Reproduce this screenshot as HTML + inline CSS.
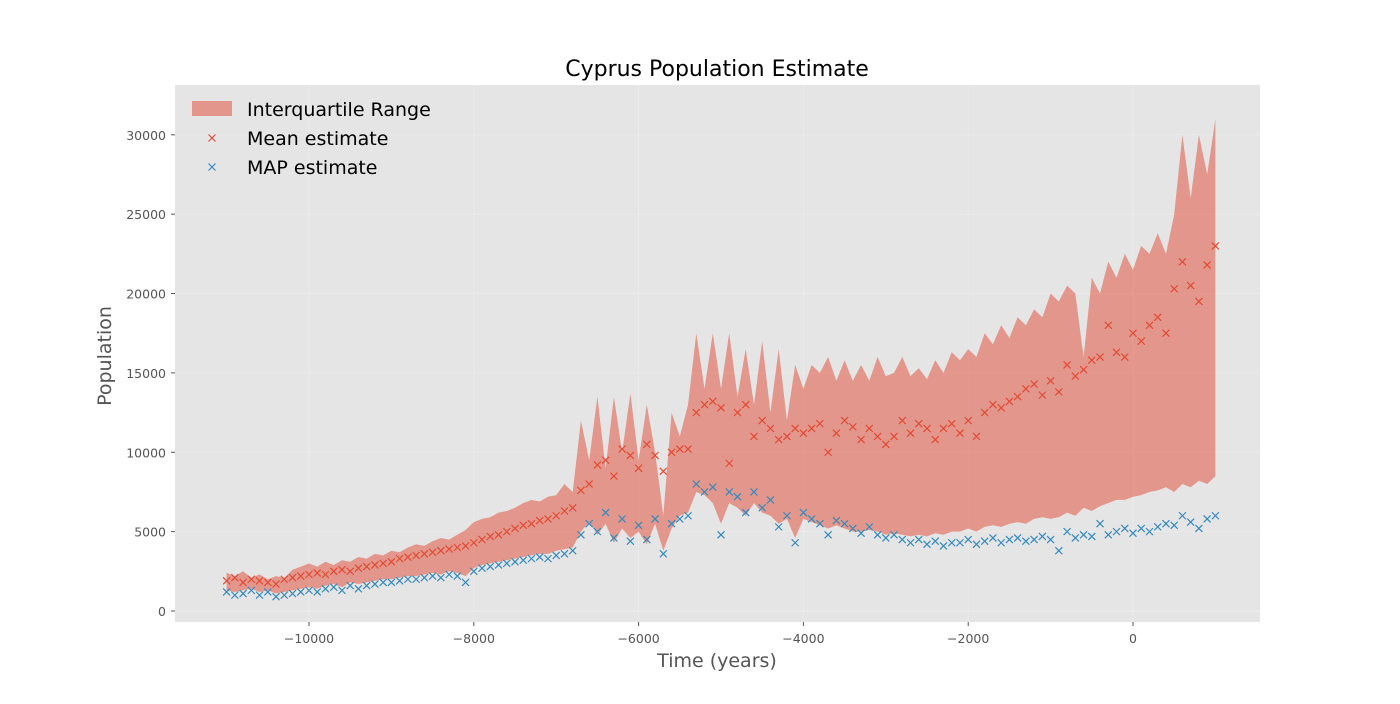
<!DOCTYPE html>
<html><head><meta charset="utf-8"><style>
body{margin:0;background:#fff;font-family:"DejaVu Sans","Liberation Sans",sans-serif}
text{font-family:"DejaVu Sans","Liberation Sans",sans-serif}
</style></head><body>
<svg width="1400" height="700" xmlns="http://www.w3.org/2000/svg">
<rect x="175" y="85" width="1085" height="537" fill="#E5E5E5"/>
<g id="grid"></g>
<g id="band"></g>
<g id="meanG"></g>
<g id="mapG"></g>
<g id="axes"></g>
<text x="717" y="76" text-anchor="middle" font-size="22" fill="#000">Cyprus Population Estimate</text>
<text x="717" y="667" text-anchor="middle" font-size="19" fill="#555">Time (years)</text>
<text x="111" y="356" text-anchor="middle" font-size="19" fill="#555" transform="rotate(-90 111 356)">Population</text>
<g>
<rect x="192" y="101" width="40" height="15" fill="#E24A33" fill-opacity="0.5"/>
<text x="247" y="116" font-size="19" fill="#000">Interquartile Range</text>
<path d="M208.5,134.5L215.5,141.5M208.5,141.5L215.5,134.5" stroke="#E24A33" stroke-width="1.2"/>
<text x="247" y="145" font-size="19" fill="#000">Mean estimate</text>
<path d="M208.5,163.5L215.5,170.5M208.5,170.5L215.5,163.5" stroke="#348ABD" stroke-width="1.2"/>
<text x="247" y="174" font-size="19" fill="#000">MAP estimate</text>
</g>
</svg>
<script>
const times=[-11000,-10900,-10800,-10700,-10600,-10500,-10400,-10300,-10200,-10100,-10000,-9900,-9800,-9700,-9600,-9500,-9400,-9300,-9200,-9100,-9000,-8900,-8800,-8700,-8600,-8500,-8400,-8300,-8200,-8100,-8000,-7900,-7800,-7700,-7600,-7500,-7400,-7300,-7200,-7100,-7000,-6900,-6800,-6700,-6600,-6500,-6400,-6300,-6200,-6100,-6000,-5900,-5800,-5700,-5600,-5500,-5400,-5300,-5200,-5100,-5000,-4900,-4800,-4700,-4600,-4500,-4400,-4300,-4200,-4100,-4000,-3900,-3800,-3700,-3600,-3500,-3400,-3300,-3200,-3100,-3000,-2900,-2800,-2700,-2600,-2500,-2400,-2300,-2200,-2100,-2000,-1900,-1800,-1700,-1600,-1500,-1400,-1300,-1200,-1100,-1000,-900,-800,-700,-600,-500,-400,-300,-200,-100,0,100,200,300,400,500,600,700,800,900,1000];
const meanK=[1.9,2.1,1.8,2.0,1.9,1.8,1.7,2.0,2.1,2.2,2.3,2.4,2.3,2.5,2.6,2.5,2.7,2.8,2.9,3.0,3.1,3.3,3.4,3.5,3.6,3.7,3.8,3.9,4.0,4.1,4.3,4.5,4.7,4.8,5.0,5.2,5.4,5.5,5.7,5.8,6.0,6.3,6.5,7.6,8.0,9.2,9.5,8.5,10.2,9.8,9.0,10.5,9.8,8.8,10.0,10.2,10.2,12.5,13.0,13.2,12.8,9.3,12.5,13.0,11.0,12.0,11.5,10.8,11.0,11.5,11.2,11.5,11.8,10.0,11.2,12.0,11.6,10.8,11.5,11.0,10.5,11.0,12.0,11.2,11.8,11.5,10.8,11.5,11.8,11.2,12.0,11.0,12.5,13.0,12.8,13.2,13.5,14.0,14.3,13.6,14.5,13.8,15.5,14.8,15.2,15.8,16.0,18.0,16.3,16.0,17.5,17.0,18.0,18.5,17.5,20.3,22.0,20.5,19.5,21.8,23.0];
const mapK=[1.2,1.0,1.1,1.3,1.0,1.2,0.9,1.0,1.1,1.2,1.3,1.2,1.4,1.5,1.3,1.6,1.4,1.6,1.7,1.8,1.8,1.9,2.0,2.0,2.1,2.2,2.1,2.3,2.2,1.8,2.5,2.7,2.8,2.9,3.0,3.1,3.2,3.3,3.4,3.3,3.5,3.6,3.8,4.8,5.5,5.0,6.2,4.6,5.8,4.4,5.4,4.5,5.8,3.6,5.5,5.8,6.0,8.0,7.5,7.8,4.8,7.5,7.2,6.2,7.5,6.5,7.0,5.3,6.0,4.3,6.2,5.8,5.5,4.8,5.7,5.5,5.2,4.9,5.3,4.8,4.6,4.8,4.5,4.3,4.5,4.2,4.4,4.1,4.3,4.3,4.5,4.2,4.4,4.6,4.3,4.5,4.6,4.4,4.5,4.7,4.5,3.8,5.0,4.6,4.8,4.7,5.5,4.8,5.0,5.2,4.9,5.2,5.0,5.3,5.5,5.4,6.0,5.6,5.2,5.8,6.0];
const q75K=[2.4,2.2,2.5,2.1,2.3,2.0,2.2,2.1,2.6,2.8,3.0,2.8,3.1,2.9,3.2,3.1,3.4,3.3,3.6,3.5,3.8,3.7,4.0,4.2,4.1,4.4,4.6,4.5,4.8,5.1,5.6,5.8,5.9,6.2,6.3,6.5,6.8,7.0,6.9,7.2,7.3,8.0,7.5,12.0,9.5,13.5,9.0,13.5,10.0,13.7,9.5,13.0,10.0,6.0,12.5,11.0,13.0,17.5,14.0,17.5,14.0,17.5,13.5,16.5,13.0,17.0,12.5,16.5,12.0,15.5,14.0,15.5,15.0,16.0,14.5,15.8,14.5,15.5,14.5,16.0,14.8,15.0,16.0,14.8,15.3,14.6,15.8,15.0,16.3,15.8,16.5,16.0,17.5,16.8,18.0,17.2,18.5,18.0,19.0,18.5,20.0,19.5,20.5,20.0,16.0,21.0,20.0,22.0,21.0,22.5,21.5,23.0,22.5,23.8,22.5,25.0,30.0,26.0,30.0,27.5,31.0];
const q25K=[1.3,1.2,1.3,1.4,1.2,1.3,1.1,1.2,1.3,1.4,1.5,1.4,1.6,1.7,1.5,1.8,1.7,1.8,1.9,2.0,2.0,2.1,2.2,2.2,2.3,2.4,2.3,2.5,2.4,2.2,2.7,2.9,3.0,3.1,3.2,3.3,3.4,3.5,3.6,3.6,3.8,3.9,4.0,5.0,5.6,4.8,5.5,4.3,5.2,4.6,5.0,4.2,5.5,3.8,5.2,6.0,6.2,7.5,7.3,6.8,5.5,6.8,6.5,6.0,6.8,6.2,6.0,5.5,5.8,4.6,5.8,5.6,5.4,5.2,5.4,5.2,5.0,5.0,5.1,5.0,4.8,4.9,4.8,4.7,4.8,4.7,4.9,4.8,5.0,5.0,5.2,5.0,5.3,5.4,5.3,5.5,5.6,5.5,5.8,5.9,5.8,5.9,6.2,6.0,6.5,6.3,6.6,6.8,7.0,7.0,7.2,7.3,7.5,7.6,7.8,7.5,8.0,7.8,8.2,8.0,8.5];
const xTicks=[-10000,-8000,-6000,-4000,-2000,0];
const xTickLabels=["\u221210000","\u22128000","\u22126000","\u22124000","\u22122000","0"];
const yTicks=[0,5000,10000,15000,20000,25000,30000];
const yTickLabels=["0","5000","10000","15000","20000","25000","30000"];

const NS="http://www.w3.org/2000/svg";
const X=t=>1133+t*0.0824;
const Y=v=>611-v*0.015873;
function mk(tag,attrs,parent){const e=document.createElementNS(NS,tag);for(const k in attrs)e.setAttribute(k,attrs[k]);parent.appendChild(e);return e;}
const grid=document.getElementById('grid'),axes=document.getElementById('axes');
xTicks.forEach((t,i)=>{
 const l=mk('line',{x1:X(t),x2:X(t),y1:85,y2:622,stroke:'#fff','stroke-width':0.8,'stroke-opacity':0.25},grid);
 
 
 const tk=mk('line',{x1:X(t),x2:X(t),y1:622,y2:626,stroke:'#555'},axes);
 
 
 const tx=mk('text',{x:X(t),y:643,'text-anchor':'middle','font-size':12.5,fill:'#555'},axes);
 tx.textContent=xTickLabels[i];
 
 
});
yTicks.forEach((v,i)=>{
 const l=mk('line',{x1:175,x2:1260,y1:Y(v),y2:Y(v),stroke:'#fff','stroke-width':0.8,'stroke-opacity':0.25},grid);
 
 
 const tk=mk('line',{x1:171,x2:175,y1:Y(v),y2:Y(v),stroke:'#555'},axes);
 
 
 const tx=mk('text',{x:166,y:Y(v)+5,'text-anchor':'end','font-size':12.5,fill:'#555'},axes);
 tx.textContent=yTickLabels[i];
 
 
});
let d='';
times.forEach((t,i)=>{d+=(i?'L':'M')+X(t).toFixed(1)+','+Y(q75K[i]*1000).toFixed(1);});
for(let i=times.length-1;i>=0;i--)d+='L'+X(times[i]).toFixed(1)+','+Y(q25K[i]*1000).toFixed(1);
const band=mk('path',{d:d+'Z',fill:'#E24A33','fill-opacity':0.5},document.getElementById('band'));


function marks(arr,color,gid,name){
 const g=document.getElementById(gid);
 times.forEach((t,i)=>{
  const cx=X(t),cy=Y(arr[i]*1000),s=3.5;
  const p=mk('path',{d:`M${cx-s},${cy-s}L${cx+s},${cy+s}M${cx-s},${cy+s}L${cx+s},${cy-s}`,stroke:color,'stroke-width':1.2,fill:'none'},g);
  
  
 });
}
marks(meanK,'#E24A33','meanG','mean-marker');
marks(mapK,'#348ABD','mapG','map-marker');
</script>
</body></html>
